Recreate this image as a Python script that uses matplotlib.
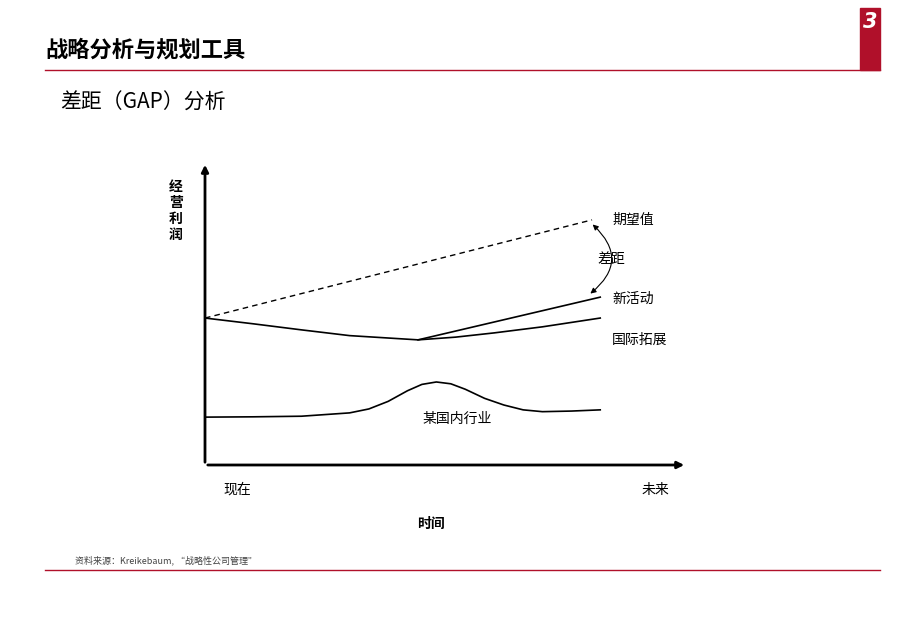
import matplotlib
matplotlib.use("Agg")
import matplotlib.pyplot as plt
from matplotlib.patches import Rectangle
plt.rcParams["font.family"] = ["Noto Sans CJK SC"]

# data (time 0..10, profit 0..10)
expect_x = [0, 8.03]; expect_y = [4.85, 8.09]
intl_x = [0, 1, 2, 3, 4.42, 5.2, 6, 7, 8.2]
intl_y = [4.85, 4.66, 4.46, 4.27, 4.13, 4.22, 4.36, 4.56, 4.85]
new_x = [4.42, 8.2]; new_y = [4.13, 5.54]
dom_x = [0, 1, 2, 3, 3.4, 3.8, 4.2, 4.5, 4.8, 5.1, 5.4, 5.8, 6.2, 6.6, 7, 7.6, 8.2]
dom_y = [1.58, 1.59, 1.61, 1.72, 1.85, 2.1, 2.45, 2.66, 2.74, 2.68, 2.5, 2.2, 1.98, 1.82, 1.76, 1.78, 1.82]

W, H = 920, 637
fig = plt.figure(figsize=(9.2, 6.37), dpi=100)
def fx(p): return p / W
def fy(p): return 1 - p / H

red = "#B0102A"
fig.add_artist(plt.Line2D([fx(45), fx(880)], [fy(70), fy(70)], color=red, lw=1))
fig.add_artist(plt.Line2D([fx(45), fx(880)], [fy(570), fy(570)], color=red, lw=1))
fig.add_artist(Rectangle((fx(860), fy(70)), fx(20), fy(8) - fy(70), color=red))
fig.text(fx(870), fy(22), "3", color="white", fontsize=15, fontweight="bold",
         style="italic", ha="center", va="center", family="DejaVu Sans")
fig.text(fx(45), fy(50), "战略分析与规划工具", fontsize=16, fontweight="bold", va="center")
fig.text(fx(60), fy(103), "差距（GAP）分析", fontsize=15, va="center")
fig.text(fx(75), fy(560), "资料来源：Kreikebaum, “战略性公司管理”", fontsize=6.5, color="#444", va="center")

ax = fig.add_axes([fx(205), fy(465), fx(687) - fx(205), fy(162) - fy(465)])
ax.set_xlim(0, 10); ax.set_ylim(0, 10)
ax.axis("off")
ax.annotate("", xy=(10, 0), xytext=(0, 0), arrowprops=dict(arrowstyle="-|>", lw=2, color="black"), annotation_clip=False)
ax.annotate("", xy=(0, 10), xytext=(0, 0), arrowprops=dict(arrowstyle="-|>", lw=2, color="black"), annotation_clip=False)
ax.plot(expect_x, expect_y, "k--", lw=1, dashes=(4, 3))
ax.plot(intl_x, intl_y, "k-", lw=1.2)
ax.plot(new_x, new_y, "k-", lw=1.2)
ax.plot(dom_x, dom_y, "k-", lw=1.2)
ax.annotate("", xy=(8.0, 8.0), xytext=(7.95, 5.6),
            arrowprops=dict(arrowstyle="<|-|>", lw=0.8, color="black", connectionstyle="arc3,rad=0.6", mutation_scale=8))
ax.text(8.45, 8.09, "期望值", fontsize=10, va="center")
ax.text(8.15, 6.8, "差距", fontsize=10, va="center")
ax.text(8.45, 5.5, "新活动", fontsize=10, va="center")
ax.text(8.45, 4.13, "国际拓展", fontsize=10, va="center")
ax.text(5.23, 1.52, "某国内行业", fontsize=10, va="center", ha="center")

fig.text(fx(237), fy(490), "现在", fontsize=10, ha="center", va="center")
fig.text(fx(655), fy(490), "未来", fontsize=10, ha="center", va="center")
fig.text(fx(431), fy(524), "时间", fontsize=10, fontweight="bold", ha="center", va="center")
fig.text(fx(176), fy(211), "经\n营\n利\n润", fontsize=10, fontweight="bold", ha="center", va="center", linespacing=1.2)

fig.savefig("out.png", dpi=100)
